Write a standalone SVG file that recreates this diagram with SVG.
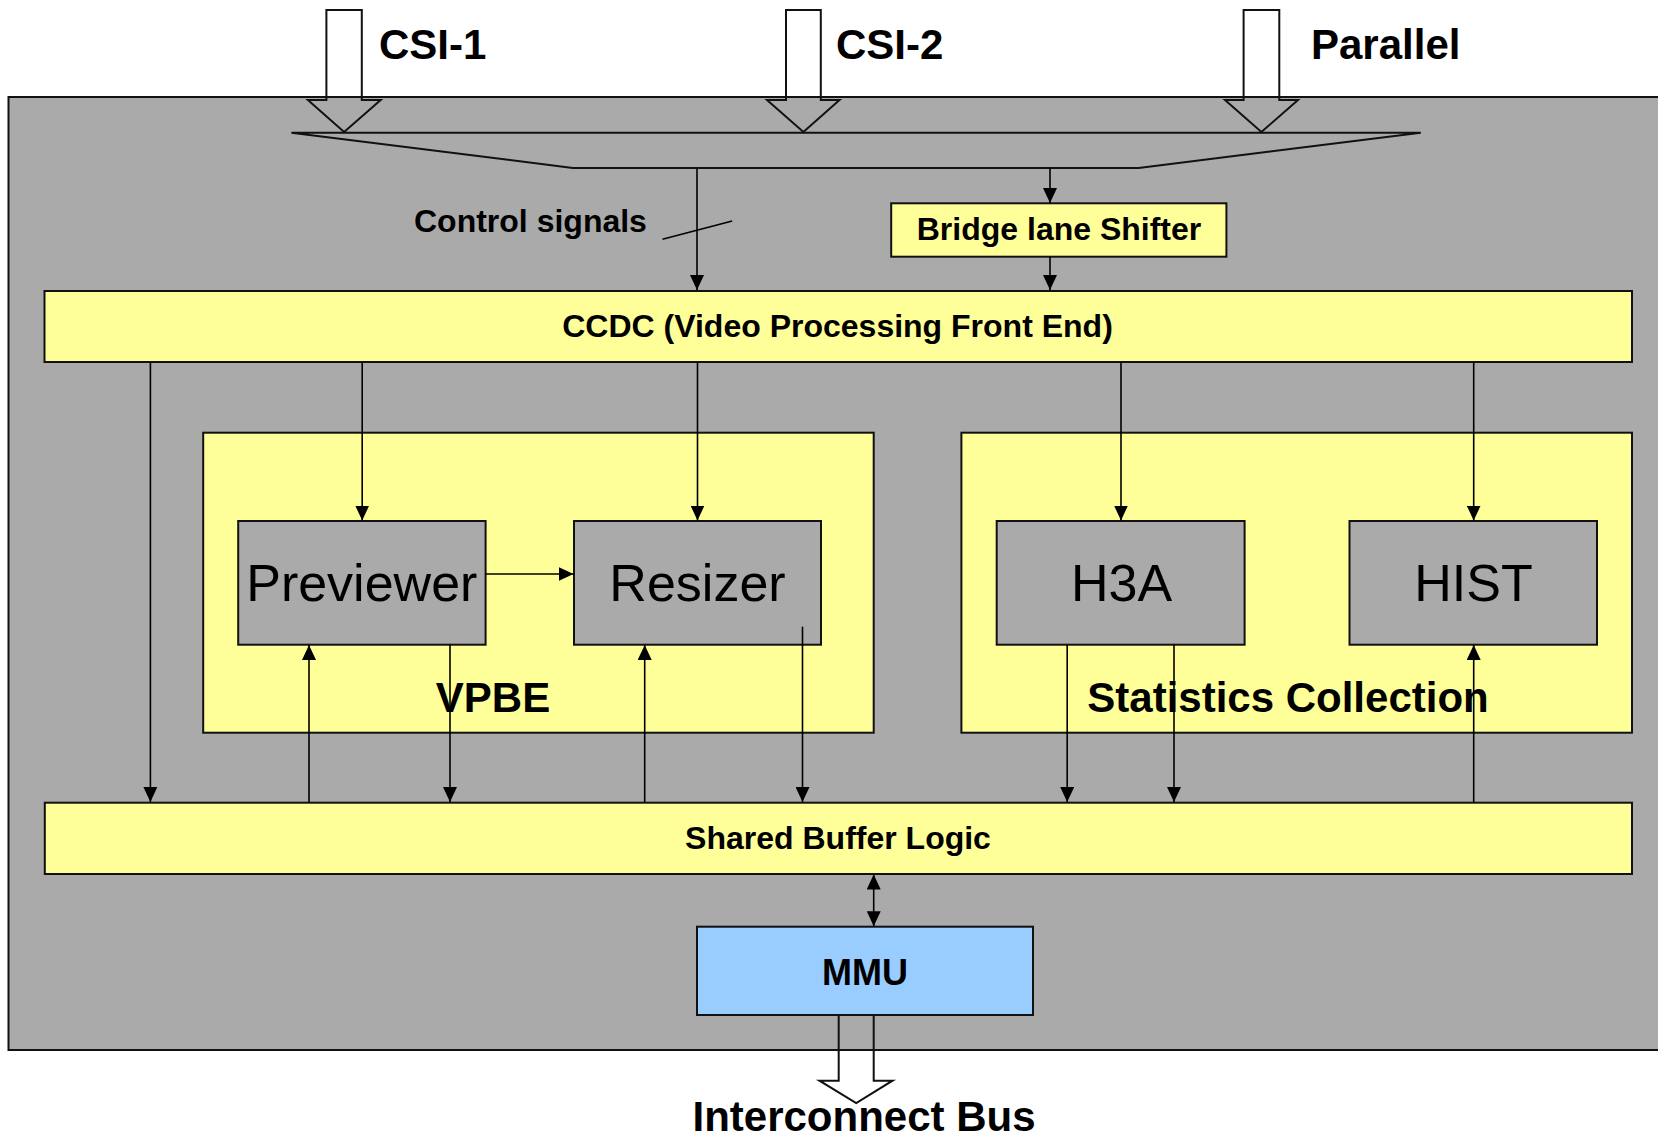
<svg xmlns="http://www.w3.org/2000/svg" width="1658" height="1140" viewBox="0 0 1658 1140">
  <style>
    .box { stroke: #111; stroke-width: 2; }
    .gray { fill: #AAAAAA; }
    .yellow { fill: #FFFF99; }
    .blue { fill: #99CCFF; }
    .hollow { fill: none; stroke: #111; stroke-width: 2; }
    .wire { fill: none; stroke: #000; stroke-width: 1.6; }
    .b32 { font-family: "Liberation Sans", Arial, sans-serif; font-weight: bold; font-size: 32px; fill: #000; }
    .b42 { font-family: "Liberation Sans", Arial, sans-serif; font-weight: bold; font-size: 42px; fill: #000; }
    .b36 { font-family: "Liberation Sans", Arial, sans-serif; font-weight: bold; font-size: 36px; fill: #000; }
    .r52 { font-family: "Liberation Sans", Arial, sans-serif; font-size: 52px; fill: #000; }
    .mid { text-anchor: middle; }
  </style>
  <defs>
    <marker id="ah" viewBox="0 0 15 14" refX="15" refY="7" markerWidth="15" markerHeight="14" markerUnits="userSpaceOnUse" orient="auto-start-reverse">
      <path d="M0,0 L15,7 L0,14 z" fill="#000"/>
    </marker>
  </defs>

  <rect width="1658" height="1140" fill="#FFFFFF"/>

  <!-- ISP enclosure -->
  <g id="isp">
    <rect class="box gray" x="8.5" y="97" width="1670" height="953"/>
  </g>

  <!-- camera input ports -->
  <g id="in-csi1">
    <polygon class="hollow" points="326.4,10 361.8,10 361.8,100 380.7,100 344.1,132 307.9,100 326.4,100"/>
    <text class="b42" x="379" y="59">CSI-1</text>
  </g>
  <g id="in-csi2">
    <polygon class="hollow" points="786,10 820.8,10 820.8,100 839.5,100 803.4,132 767,100 786,100"/>
    <text class="b42" x="836" y="59">CSI-2</text>
  </g>
  <g id="in-parallel">
    <polygon class="hollow" points="1243.6,10 1279.3,10 1279.3,100 1298,100 1261.4,132 1225,100 1243.6,100"/>
    <text class="b42" x="1311" y="59">Parallel</text>
  </g>

  <!-- input mux -->
  <g id="mux">
    <polygon class="hollow" points="291.4,132.7 1420.8,132.7 1138.7,168 572.9,168"/>
  </g>

  <g id="bridge">
    <rect class="box yellow" x="891.2" y="203.3" width="335.2" height="53.4"/>
    <text class="b32 mid" x="1059" y="240">Bridge lane Shifter</text>
  </g>

  <g id="ccdc">
    <rect class="box yellow" x="44.5" y="291" width="1587.5" height="71"/>
    <text class="b32 mid" x="837.5" y="337">CCDC (Video Processing Front End)</text>
  </g>

  <g id="vpbe">
    <rect class="box yellow" x="203.2" y="432.7" width="670.5" height="300"/>
    <text class="b42 mid" x="493" y="711.7">VPBE</text>
  </g>

  <g id="previewer">
    <rect class="box gray" x="238.2" y="521" width="247.4" height="123.7"/>
    <text class="r52 mid" x="361.8" y="600.7">Previewer</text>
  </g>

  <g id="resizer">
    <rect class="box gray" x="574" y="521" width="247" height="123.7"/>
    <text class="r52 mid" x="697.5" y="600.7">Resizer</text>
  </g>

  <g id="stats">
    <rect class="box yellow" x="961.4" y="432.7" width="670.6" height="300"/>
    <text class="b42 mid" x="1288" y="711.7">Statistics Collection</text>
  </g>

  <g id="h3a">
    <rect class="box gray" x="996.7" y="521" width="247.9" height="123.7"/>
    <text class="r52 mid" x="1121.6" y="600.7">H3A</text>
  </g>

  <g id="hist">
    <rect class="box gray" x="1349.5" y="521" width="247.5" height="123.7"/>
    <text class="r52 mid" x="1473.5" y="600.7">HIST</text>
  </g>

  <g id="sbl">
    <rect class="box yellow" x="44.8" y="802.7" width="1587.2" height="71.3"/>
    <text class="b32 mid" x="838" y="849">Shared Buffer Logic</text>
  </g>

  <g id="mmu">
    <rect class="box blue" x="697" y="926.7" width="336" height="88.3"/>
    <text class="b36 mid" x="865" y="985">MMU</text>
  </g>

  <!-- output port -->
  <g id="out-bus">
    <polygon class="hollow" points="838.7,1015 873.7,1015 873.7,1080.7 892.5,1080.7 856.2,1103 819.5,1080.7 838.7,1080.7"/>
  </g>

  <!-- connectors -->
  <g id="connectors">
    <path class="wire" d="M697,168 V290" marker-end="url(#ah)"/>
    <path class="wire" d="M662.5,239.3 L732.2,221"/>
    <path class="wire" d="M1050,168 V203" marker-end="url(#ah)"/>
    <path class="wire" d="M1050,256.7 V290" marker-end="url(#ah)"/>

    <path class="wire" d="M150.4,362 V802" marker-end="url(#ah)"/>
    <path class="wire" d="M362.2,362 V520.5" marker-end="url(#ah)"/>
    <path class="wire" d="M697.5,362 V520.5" marker-end="url(#ah)"/>
    <path class="wire" d="M1121,362 V520.5" marker-end="url(#ah)"/>
    <path class="wire" d="M1473.7,362 V520.5" marker-end="url(#ah)"/>

    <path class="wire" d="M485.6,574 H573.5" marker-end="url(#ah)"/>

    <path class="wire" d="M309,802.7 V645" marker-end="url(#ah)"/>
    <path class="wire" d="M450,644.7 V802" marker-end="url(#ah)"/>
    <path class="wire" d="M644.7,802.7 V645" marker-end="url(#ah)"/>
    <path class="wire" d="M802.5,626.7 V802" marker-end="url(#ah)"/>
    <path class="wire" d="M1067.2,644.7 V802" marker-end="url(#ah)"/>
    <path class="wire" d="M1174,644.7 V802" marker-end="url(#ah)"/>
    <path class="wire" d="M1473.7,802.7 V645" marker-end="url(#ah)"/>

    <path class="wire" d="M873.7,874.5 V926.2" marker-start="url(#ah)" marker-end="url(#ah)"/>
  </g>

  <!-- free labels -->
  <text class="b32" x="414" y="232">Control signals</text>
  <text class="b42 mid" x="864" y="1131">Interconnect Bus</text>
</svg>
